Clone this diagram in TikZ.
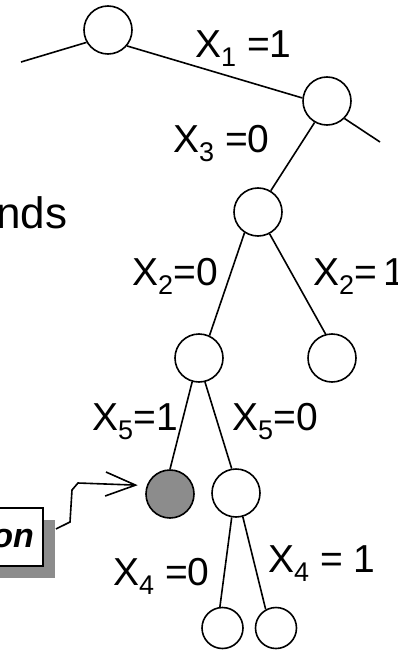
\documentclass[tikz,border=0pt]{standalone}
\usepackage{fontspec}
\setmainfont{Liberation Sans}
\usetikzlibrary{arrows.meta,shadows}
\newcommand\sbx[1]{\raisebox{-9pt}{\fontsize{27}{27}\selectfont #1}}
\begin{document}
\begin{tikzpicture}[x=1pt,y=-1pt,
  nd/.style={circle,draw,line width=1.6pt,minimum size=48pt,inner sep=0pt},
  lf/.style={nd,minimum size=41pt},
  ed/.style={line width=1.6pt},
  lbl/.style={anchor=base west,inner sep=0pt,font=\fontsize{39}{41}\selectfont},
  ]
\useasboundingbox (0,0) rectangle (397,650);
\node[nd] (r) at (108,30) {};
\node[nd] (a) at (327,101) {};
\node[nd] (b) at (258,212) {};
\node[nd] (c) at (199,358) {};
\node[nd] (d) at (332,358) {};
\node[nd,fill=black!45] (e) at (170,494) {};
\node[nd] (f) at (236,493) {};
\node[lf] (g) at (222.5,628) {};
\node[lf] (h) at (276,628) {};
\coordinate (l0) at (21,62);
\coordinate (r0) at (380,142);
\draw[ed] (l0) -- (r.-150);
\draw[ed] (r.-40) -- (a.173);
\draw[ed] (a.-45) -- (r0);
\draw[ed] (a.-120) -- (b.59);
\draw[ed] (b.-123) -- (c.65);
\draw[ed] (b.-62) -- (d.105);
\draw[ed] (c.-106) -- (e.90);
\draw[ed] (c.-76) -- (f.100);
\draw[ed] (f.-100) -- (g.97);
\draw[ed] (f.-74) -- (h.119);
\node[lbl] (t1) at (195,58) {X\sbx{1} =1};
\node[lbl] (t3) at (173,153) {X\sbx{3} =0};
\node[lbl] (t2a) at (132,285) {X\sbx{2}=0};
\node[lbl] (t2b) at (313,285) {X\sbx{2}=\,1};
\node[lbl] (t5a) at (92,430) {X\sbx{5}=1};
\node[lbl] (t5b) at (232,430) {X\sbx{5}=0};
\node[lbl] (t4a) at (113,585) {X\sbx{4} =0};
\node[lbl] (t4b) at (268,572) {X\sbx{4} = 1};
\node[anchor=base west,inner sep=0pt,font=\fontsize{44}{48}\selectfont] (nds) at (-4,228) {nds};
\node[draw,line width=1.8pt,fill=white,minimum width=60pt,minimum height=58pt,inner sep=0pt,
  drop shadow={shadow xshift=12pt,shadow yshift=-12pt,fill=black!45,opacity=1}] (bx) at (13,537) {};
\node[anchor=base east,inner sep=0pt,font=\fontsize{34}{36}\selectfont\bfseries\itshape] (on) at (34,547) {on};
\draw[ed,-{Straight Barb[length=30pt,width=24pt,line width=1.6pt]},shorten >=9pt] ([xshift=12pt,yshift=8pt]bx.east) -- (70,522) -- (72,490) -- (78,483) -- (e.160);
\end{tikzpicture}
\end{document}
